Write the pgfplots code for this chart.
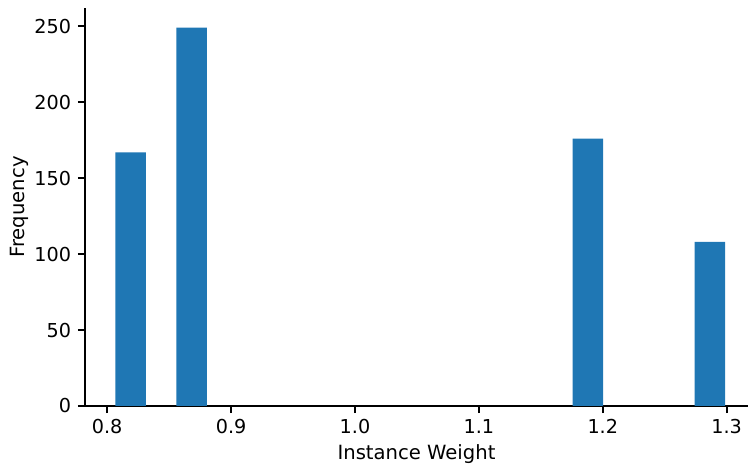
\documentclass[border=0pt]{standalone}
\usepackage{fontspec}
\setmainfont{DejaVu Sans}
\usepackage{pgfplots}
\pgfplotsset{compat=1.18}
\definecolor{c0}{HTML}{1F77B4}
\begin{document}
\fontsize{9.8bp}{12bp}\selectfont
\begin{tikzpicture}
\path[use as bounding box] (-42.5bp,-29.5bp) rectangle (332bp,203bp);
\begin{axis}[
  at={(0,0)}, anchor=south west,
  width=331.5bp, height=199bp, scale only axis,
  xmin=0.7821, xmax=1.3172, ymin=0, ymax=262,
  axis x line*=bottom, axis y line*=left,
  axis line style={-, line width=0.9bp, black},
  xtick={0.8,0.9,1.0,1.1,1.2,1.3},
  xticklabels={0.8,0.9,1.0,1.1,1.2,1.3},
  ytick={0,50,100,150,200,250},
  tick align=outside, tick pos=left,
  major tick length=3.5bp,
  every tick/.style={black, line width=0.9bp},
  /pgf/number format/assume math mode=true,
  tick label style={font=\fontsize{9.6bp}{11bp}\selectfont},
  label style={font=\fontsize{9.8bp}{12bp}\selectfont},
  xticklabel style={anchor=base, yshift=-10.4bp},
  yticklabel style={anchor=east},
  xlabel={Instance Weight},
  ylabel={Frequency},
  xlabel style={at={(axis description cs:0.5,-0.1342)}, anchor=base},
  ylabel style={at={(axis description cs:-0.0905,0.5)}, anchor=base},
]
\addplot[ybar, bar width=0.0246, fill=c0, draw=none] coordinates {
  (0.8190,167) (0.8682,249) (1.1880,176) (1.2864,108)
};
\end{axis}
\end{tikzpicture}
\end{document}
